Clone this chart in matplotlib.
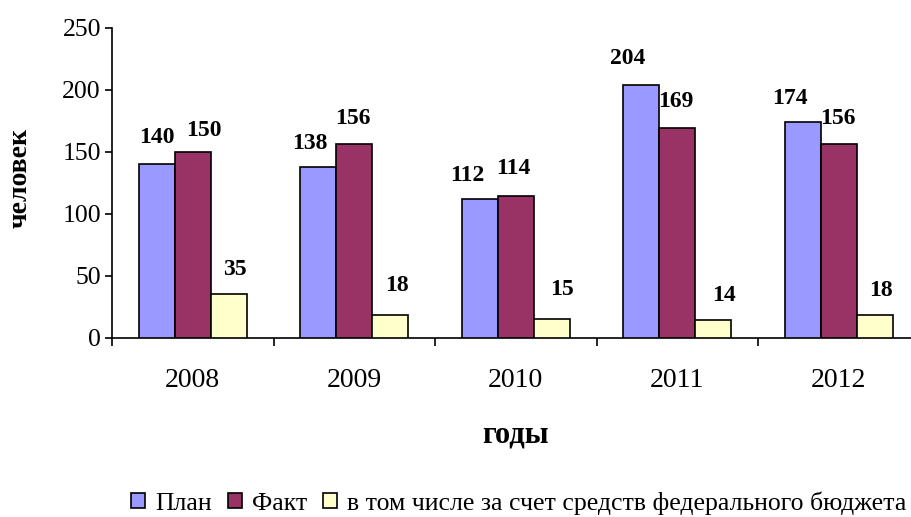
import matplotlib
matplotlib.use('Agg')
import matplotlib.pyplot as plt
import numpy as np

plt.rcParams['font.family'] = ['Liberation Serif', 'DejaVu Serif']

# data
years = ['2008', '2009', '2010', '2011', '2012']
plan = [140, 138, 112, 204, 174]
fact = [150, 156, 114, 169, 156]
federal = [35, 18, 15, 14, 18]
series_names = ['План', 'Факт', 'в том числе за счет средств федерального бюджета']
colors = ['#9999FF', '#993366', '#FFFFCC']

# label nudges in pixels (dx, dy from bar top) to mimic Excel placement
label_dx = [[0, -9, -13, -14, -13], [11, -1, -2, -1, -1], [6, 7, 10, 11, 6]]
label_dy = [[27, 23, 23, 26, 24], [21, 26, 28, 27, 26], [25, 30, 29, 25, 25]]

fig = plt.figure(figsize=(9.11, 5.17), dpi=100)
ax = fig.add_axes([112 / 911, 1 - 337.5 / 517, 807.5 / 911, 309.5 / 517])

x = np.arange(len(years))
width = 0.222
bars_all = []
for i, (vals, col) in enumerate(zip([plan, fact, federal], colors)):
    bars = ax.bar(x + (i - 1) * width, vals, width, color=col, edgecolor='black',
                  linewidth=1.2, label=series_names[i], zorder=3)
    bars_all.append(bars)
    for j, (b, v) in enumerate(zip(bars, vals)):
        ax.annotate(str(v), (b.get_x() + b.get_width() / 2, v),
                    xytext=(label_dx[i][j], label_dy[i][j]), textcoords='offset pixels',
                    ha='center', va='center', fontsize=17, fontweight='bold')

ax.set_xlim(-0.5, len(years) - 0.5)
ax.set_ylim(0, 250)
ax.set_yticks(range(0, 251, 50))
ax.tick_params(axis='y', labelsize=18.5, length=5, width=1.2, direction='out', pad=3)

ax.set_xticks(x)
ax.set_xticklabels(years, fontsize=20)
ax.tick_params(axis='x', length=0, pad=22)
ax.set_xticks(np.arange(-0.5, len(years), 1), minor=True)
ax.tick_params(axis='x', which='minor', length=6, width=1.2, direction='out')

for s in ['top', 'right']:
    ax.spines[s].set_visible(False)
ax.spines['left'].set_linewidth(1.2)
ax.spines['bottom'].set_linewidth(1.2)

ax.set_xlabel('годы', fontsize=22, fontweight='bold', labelpad=20)
ax.set_ylabel('человек', fontsize=20, fontweight='bold')
ax.yaxis.set_label_coords(-0.098, 0.515)

fig.legend(handles=bars_all, labels=series_names, loc='center', bbox_to_anchor=(519 / 911, 1 - 503 / 517),
           ncol=3, frameon=False, fontsize=18.5, handlelength=0.55, handleheight=0.55,
           handletextpad=0.4, columnspacing=0.6)

fig.savefig('out.png', dpi=100)
